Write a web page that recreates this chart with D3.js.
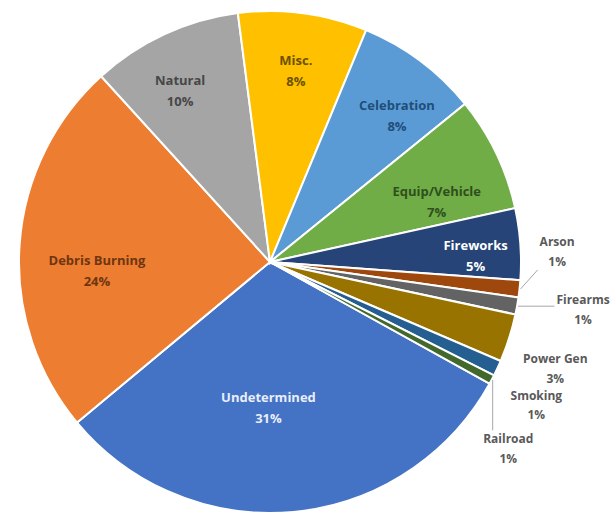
<!DOCTYPE html>
<html>
    <script src="https://d3js.org/d3.v7.min.js"></script>
    <style>
        body {margin: 0; background: #ffffff;}
        svg text {font-family: "Open Sans", "Liberation Sans", sans-serif; font-weight: bold;}
    </style>
    <body>
        <div id="chart_div"></div>
        <script>
            // causes in the order the pie is drawn (clockwise)
            var causes = ["Undetermined", "Debris Burning", "Natural", "Misc.", "Celebration",
                "Equip/Vehicle", "Fireworks", "Arson", "Firearms", "Power Gen", "Smoking", "Railroad"];
            var shares = [30.9, 24.3, 9.7, 8.3, 7.9, 7.4, 4.6, 1.1, 1.1, 3.1, 1.0, 0.6];
            var outsideLabels = ["Arson", "Firearms", "Power Gen", "Smoking", "Railroad"];
            var leaderLabels = ["Arson", "Firearms", "Railroad"];

            var colors = ["#4472c4", "#ed7d31", "#a5a5a5", "#ffc000", "#5b9bd5", "#70ad47",
                "#264478", "#9e480e", "#636363", "#997300", "#255e91", "#43682b"];
            var textColors = {"Undetermined": "#e8eefa", "Debris Burning": "#6e3510", "Natural": "#474747",
                "Misc.": "#6b5200", "Celebration": "#1f4e79", "Equip/Vehicle": "#2f4f1d", "Fireworks": "#ffffff"};
            // radius factor and angle nudge (degrees) for every label
            var labelPlace = {"Undetermined": [0.57, 6], "Debris Burning": [0.69, -6], "Natural": [0.78, -2.5],
                "Misc.": [0.78, 0], "Celebration": [0.78, 3.7], "Equip/Vehicle": [0.71, 5], "Fireworks": [0.82, 1.6],
                "Arson": [1.145, -8.7], "Firearms": [1.26, -1.9], "Power Gen": [1.21, 2.4],
                "Smoking": [1.2, 2.8], "Railroad": [1.2, 9.8]};

            var width = 616, height = 515;
            var cx = 270, cy = 262, radius = 251;
            var rad = Math.PI / 180;

            var svg = d3.select("#chart_div").append("svg")
                .attr("width", width)
                .attr("height", height);

            var g = svg.append("g")
                .attr("transform", "translate(" + cx + "," + cy + ")");

            var data = causes.map(function(c, i){ return {cause: c, share: shares[i], color: colors[i]}; });

            var start = 119 * rad;
            var pie = d3.pie()
                .sort(null)
                .value(function(d){ return d.share; })
                .startAngle(start)
                .endAngle(start + 2 * Math.PI);

            var arc = d3.arc().innerRadius(0).outerRadius(radius);
            var arcs = pie(data);

            g.selectAll("path.slice")
                .data(arcs)
                .enter().append("path")
                .attr("class", "slice")
                .attr("d", arc)
                .attr("fill", function(d){ return d.data.color; })
                .attr("stroke", "#ffffff")
                .attr("stroke-width", 2);

            function pct(d){ return Math.round(d.data.share) + "%"; }

            arcs.forEach(function(d){
                var name = d.data.cause;
                var outside = outsideLabels.indexOf(name) >= 0;
                var p = labelPlace[name];
                var mid = (d.startAngle + d.endAngle) / 2;
                var a = mid + p[1] * rad;
                var x = Math.sin(a) * radius * p[0];
                var y = -Math.cos(a) * radius * p[0];
                var t = g.append("text")
                    .attr("transform", "translate(" + x + "," + y + ")")
                    .attr("text-anchor", "middle")
                    .attr("font-size", outside ? "12px" : "13px")
                    .attr("fill", outside ? "#595959" : textColors[name]);
                t.append("tspan").attr("x", 0).attr("dy", "-0.25em").text(name);
                t.append("tspan").attr("x", 0).attr("dy", "1.65em").text(pct(d));

                if (leaderLabels.indexOf(name) >= 0) {
                    var bb = t.node().getBBox();
                    var left = x + bb.x - 2, right = x + bb.x + bb.width + 2;
                    var top = y + bb.y, bottom = y + bb.y + bb.height;
                    var ex = Math.sin(mid) * (radius + 1), ey = -Math.cos(mid) * (radius + 1);
                    var nx = Math.min(Math.max(ex, left), right);
                    var ny = Math.min(Math.max(ey, top), bottom);
                    g.append("line")
                        .attr("x1", ex).attr("y1", ey)
                        .attr("x2", nx).attr("y2", ny)
                        .attr("stroke", "#a6a6a6")
                        .attr("stroke-width", 1);
                }
            });
        </script>
    </body>
</html>
